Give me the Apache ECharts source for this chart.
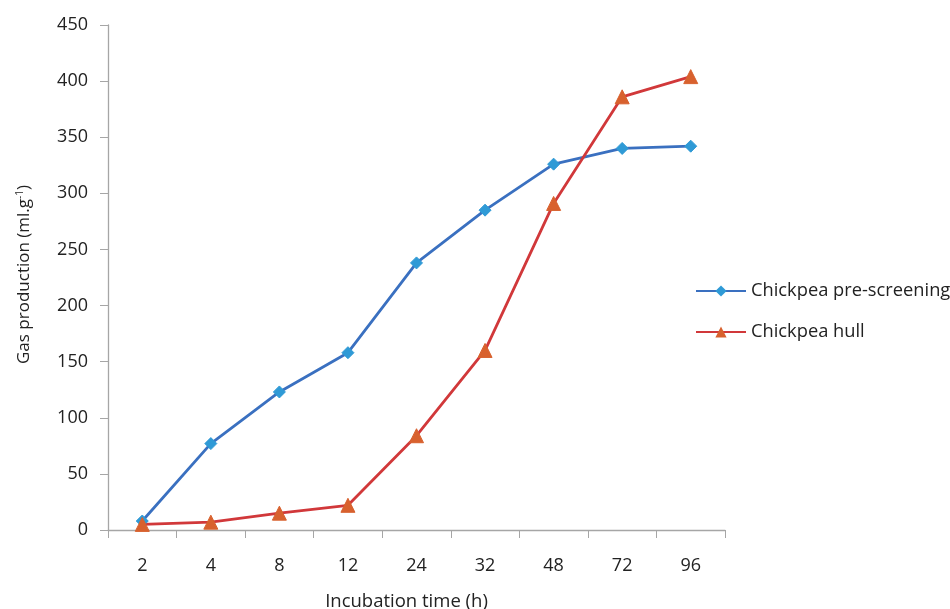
<!DOCTYPE html>
<html>
<head>
<meta charset="utf-8">
<script src="https://cdn.jsdelivr.net/npm/echarts@6/dist/echarts.min.js"></script>
<style>html,body{margin:0;padding:0;background:#fff}#c{width:950px;height:609px}</style>
</head>
<body>
<div id="c"></div>
<script>
const categories = ['2','4','8','12','24','32','48','72','96'];
const preScreening = [8, 77, 123, 158, 238, 285, 326, 340, 342];
const hull = [5, 7, 15, 22, 84, 160, 291, 386, 404];
const yTicks = {min: 0, max: 450, interval: 50};

const font = '"Open Sans", sans-serif';
const chart = echarts.init(document.getElementById('c'));
chart.setOption({
  animation: false,
  backgroundColor: '#fff',
  textStyle: {fontFamily: font},
  grid: {left: 108, right: 225, top: 25, bottom: 79, containLabel: false, outerBoundsMode: 'none'},
  legend: {
    orient: 'vertical', left: 690, top: 277,
    itemWidth: 50, itemHeight: 14, itemGap: 23,
    textStyle: {fontFamily: font, fontSize: 18.3, color: '#222'},
    data: ['Chickpea pre-screening', 'Chickpea hull']
  },
  xAxis: {
    type: 'category', data: categories, boundaryGap: true,
    name: 'Incubation time (h)', nameLocation: 'middle', nameGap: 62,
    nameTextStyle: {fontFamily: font, fontSize: 18.5, color: '#222', padding: [0, 20, 0, 0]},
    axisLine: {lineStyle: {color: '#a6a6a6', width: 1.3}},
    axisTick: {show: true, length: 8, alignWithLabel: false, lineStyle: {color: '#a6a6a6'}},
    axisLabel: {fontFamily: font, fontSize: 18, color: '#222', margin: 27},
    splitLine: {show: false}
  },
  yAxis: {
    type: 'value', min: yTicks.min, max: yTicks.max, interval: yTicks.interval,
    name: 'Gas production (ml.g{sup|-1})', nameLocation: 'middle', nameGap: 74, nameRotate: 90,
    nameTextStyle: {fontFamily: font, fontSize: 17, color: '#222', padding: [0, 0, 0, 6],
      rich: {sup: {fontFamily: font, fontSize: 10, color: '#222', verticalAlign: 'bottom', padding: [0,0,9,0]}}},
    axisLine: {show: true, lineStyle: {color: '#a6a6a6', width: 1.3}},
    axisTick: {show: true, length: 8, lineStyle: {color: '#a6a6a6'}},
    axisLabel: {fontFamily: font, fontSize: 18, color: '#222', margin: 20},
    splitLine: {show: false}
  },
  series: [
    {
      name: 'Chickpea pre-screening', type: 'line', data: preScreening,
      symbol: 'diamond', symbolSize: 12,
      lineStyle: {color: '#3a70c0', width: 2.8},
      itemStyle: {color: '#2f9ad6', borderColor: '#2f9ad6'}
    },
    {
      name: 'Chickpea hull', type: 'line', data: hull,
      symbol: 'triangle', symbolSize: 14,
      lineStyle: {color: '#d1383a', width: 2.8},
      itemStyle: {color: '#d8612e', borderColor: '#d8612e'}
    }
  ]
});
</script>
</body>
</html>
